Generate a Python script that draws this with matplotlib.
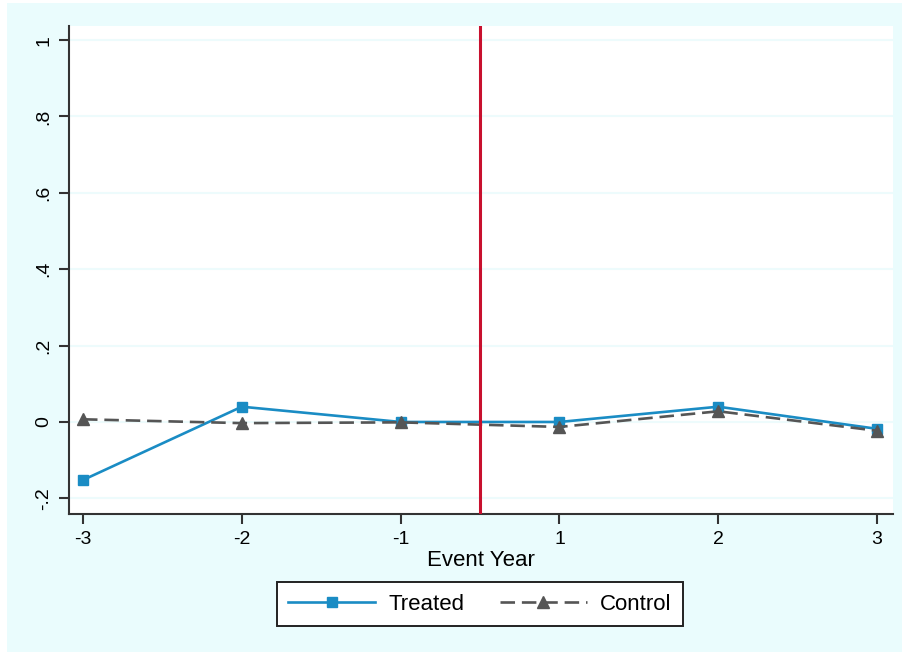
import numpy as np
import matplotlib
matplotlib.use("Agg")
import matplotlib.pyplot as plt
from matplotlib.patches import Rectangle

# values
event_years = ["-3", "-2", "-1", "1", "2", "3"]
treated = [-0.152, 0.040, 0.000, 0.000, 0.040, -0.018]
control = [0.007, -0.003, -0.001, -0.013, 0.028, -0.023]
ytick_vals = [-0.2, 0, 0.2, 0.4, 0.6, 0.8, 1.0]
ytick_labels = ["-.2", "0", ".2", ".4", ".6", ".8", "1"]
event_line = 2.5   # between -1 and 1

plt.rcParams['font.family'] = ['Liberation Sans', 'DejaVu Sans']
bg = "#eafcfd"

fig = plt.figure(figsize=(9.02, 6.52), dpi=100, facecolor=bg)
# thin white strips at top and left edge
fig.patches.append(Rectangle((0, 1 - 3 / 652), 1, 3 / 652, transform=fig.transFigure,
                             facecolor="white", edgecolor="none", zorder=-1))
fig.patches.append(Rectangle((0, 0), 7 / 902, 1, transform=fig.transFigure,
                             facecolor="white", edgecolor="none", zorder=-1))

ax = fig.add_axes([69 / 902, 1 - 514 / 652, (893 - 69) / 902, (514 - 26) / 652])
ax.set_facecolor("white")

x = np.arange(len(event_years))
ax.plot(x, treated, color="#1a8cc4", lw=1.9, marker="s", ms=7.5,
        label="Treated", zorder=3)
ax.plot(x, control, color="#555555", lw=1.9, ls=(0, (5.5, 2.6)), marker="^", ms=9,
        label="Control", zorder=4)
ax.axvline(event_line, color="#c8102e", lw=2.2, zorder=5)

ax.set_xlim(-0.088, 5.10)
ax.set_ylim(-0.241, 1.037)
ax.set_xticks(x)
ax.set_xticklabels(event_years)
ax.set_yticks(ytick_vals)
ax.set_yticklabels(ytick_labels, rotation=90, va="center")
ax.grid(axis="y", color="#edfbfc", lw=1.5)
ax.set_axisbelow(True)

for s in ["top", "right"]:
    ax.spines[s].set_visible(False)
for s in ["left", "bottom"]:
    ax.spines[s].set_linewidth(1.5)
    ax.spines[s].set_color("#333333")
ax.tick_params(length=7, width=1.5, color="#333333", labelsize=14, pad=5)
ax.set_xlabel("Event Year", fontsize=16, labelpad=2)

leg = fig.legend(loc="center", bbox_to_anchor=(480 / 902, 1 - 604 / 652), ncol=2,
                 fontsize=16, handlelength=3.9, handletextpad=0.6, columnspacing=1.6,
                 numpoints=1, fancybox=False, framealpha=1, borderpad=0.5)
leg.get_frame().set_edgecolor("#222222")
leg.get_frame().set_linewidth(1.4)

plt.savefig("out.png", dpi=100, facecolor=fig.get_facecolor())
